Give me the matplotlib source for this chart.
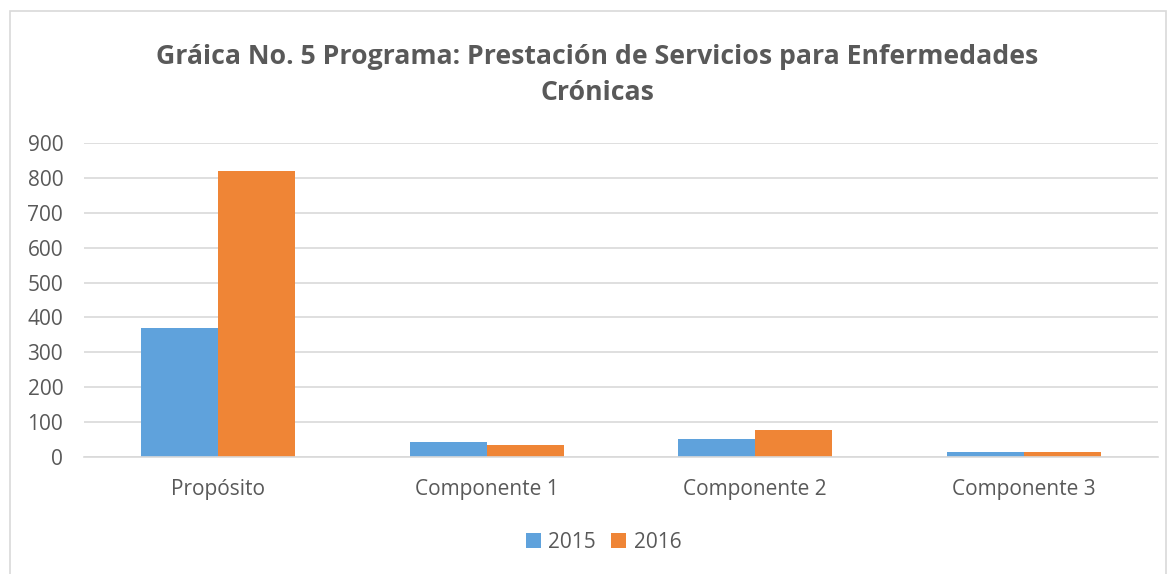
import matplotlib
matplotlib.use("Agg")
import matplotlib.pyplot as plt
import numpy as np
from matplotlib.patches import Rectangle

categories = ["Propósito", "Componente 1", "Componente 2", "Componente 3"]
series_names = ["2015", "2016"]
values_2015 = [369, 42, 53, 13]
values_2016 = [820, 35, 77, 13]
yticks = [0, 100, 200, 300, 400, 500, 600, 700, 800, 900]
title = "Gráica No. 5 Programa: Prestación de Servicios para Enfermedades\nCrónicas"

W, H = 1174, 574
fig = plt.figure(figsize=(W/100, H/100), dpi=100)
plt.rcParams['font.family'] = ['Open Sans', 'DejaVu Sans']

# outer chart frame
fig.patches.append(Rectangle((10/W, -0.01), (1166-10)/W, (H-11)/H + 0.01, transform=fig.transFigure,
                             fill=False, edgecolor="#d9d9d9", linewidth=1.2))

ax = fig.add_axes([84/W, 1-457/H, (1158-84)/W, (457-143)/H])
x = np.arange(len(categories))
bw = 0.287
c15 = "#5fa2dc"
c16 = "#ef8536"
ax.bar(x - bw/2, values_2015, bw, color=c15, label=series_names[0])
ax.bar(x + bw/2, values_2016, bw, color=c16, label=series_names[1])
ax.set_xlim(-0.5, len(categories) - 0.5)
ax.set_ylim(0, 900)
ax.set_yticks(yticks)
ax.set_yticklabels([str(v) for v in yticks], color="#595959", fontsize=15)
ax.set_xticks(x)
ax.set_xticklabels(categories, color="#595959", fontsize=15)
ax.grid(axis="y", color="#d9d9d9", linewidth=1.2)
ax.set_axisbelow(True)
for s in ["top", "right", "left"]:
    ax.spines[s].set_visible(False)
ax.spines["bottom"].set_color("#d9d9d9")
ax.spines["bottom"].set_linewidth(1.2)
ax.tick_params(axis="both", length=0)
ax.tick_params(axis="y", pad=15)
ax.tick_params(axis="x", pad=16)

fig.text(0.509, 1-75/H, title, ha="center", va="center", fontsize=19.2, fontweight="bold",
         color="#595959", linespacing=1.55)

fig.legend(loc="center", bbox_to_anchor=(0.514, 1-542/H), ncol=2, frameon=False,
           fontsize=15, labelcolor="#595959", handlelength=0.75, handleheight=0.75,
           columnspacing=0.7, handletextpad=0.35)

fig.savefig("out.png", dpi=100)
